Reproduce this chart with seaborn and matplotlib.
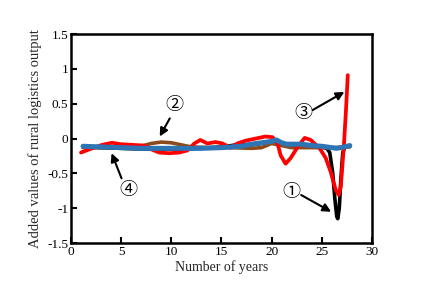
import matplotlib
matplotlib.use("Agg")
import matplotlib.pyplot as plt
import seaborn as sns
import numpy as np

# Series 1 (black)
x1 = [1.2, 3, 5, 7, 9, 11, 13, 15, 17, 18, 19, 20, 20.5, 21, 22, 23, 24, 25, 25.5, 25.8, 26.1, 26.3, 26.5, 26.6, 26.75, 26.9, 27.1, 27.3, 27.8]
y1 = [-0.12, -0.13, -0.14, -0.15, -0.15, -0.15, -0.14, -0.12, -0.08, -0.09, -0.07, -0.05, -0.04, -0.09, -0.09, -0.10, -0.11, -0.12, -0.14, -0.2, -0.5, -0.85, -1.12, -1.15, -1.0, -0.6, -0.2, -0.12, -0.11]
# Series 2 (brown)
x2 = [1.2, 3, 5, 7, 8, 9, 10, 11, 12, 14, 16, 18, 19, 20, 21, 22, 24, 26, 27.8]
y2 = [-0.13, -0.13, -0.13, -0.11, -0.07, -0.05, -0.06, -0.09, -0.12, -0.13, -0.13, -0.14, -0.13, -0.07, -0.10, -0.13, -0.13, -0.13, -0.12]
# Series 3 (red)
x3 = [1.0, 2.1, 3.1, 4.1, 4.9, 6.1, 7.3, 8.1, 8.8, 9.8, 10.8, 11.6, 12.3, 12.9, 13.6, 14.4, 15.1, 15.9, 16.6, 17.4, 18.4, 19.4, 20.1, 20.6, 20.9, 21.4, 21.9, 22.6, 23.3, 23.9, 24.8, 25.4, 25.9, 26.4, 26.7, 26.9, 27.2, 27.4, 27.6]
y3 = [-0.2, -0.14, -0.09, -0.06, -0.08, -0.09, -0.1, -0.16, -0.2, -0.21, -0.2, -0.17, -0.07, -0.02, -0.07, -0.05, -0.07, -0.13, -0.07, -0.03, 0.0, 0.03, 0.02, -0.07, -0.24, -0.36, -0.28, -0.12, 0.01, -0.02, -0.14, -0.28, -0.48, -0.74, -0.81, -0.69, -0.12, 0.36, 0.91]
# Series 4 (blue)
x4 = [1.2, 3, 5, 7, 10, 13, 15, 17, 18, 19, 20, 20.5, 21, 21.5, 23, 24, 25, 26, 26.5, 27.2, 27.8]
y4 = [-0.11, -0.12, -0.13, -0.14, -0.14, -0.14, -0.13, -0.11, -0.08, -0.06, -0.04, -0.02, -0.06, -0.08, -0.08, -0.10, -0.11, -0.13, -0.14, -0.12, -0.10]

labels = ["①", "②", "③", "④"]
label_x = [21.98, 10.35, 23.18, 5.7]
label_y = [-0.76, 0.48, 0.37, -0.74]
tail_x = [22.95, 9.85, 24.1, 5.04]
tail_y = [-0.81, 0.29, 0.41, -0.57]
tip_x = [25.94, 8.85, 27.26, 4.05]
tip_y = [-1.05, 0.03, 0.67, -0.21]

xticks = [0, 5, 10, 15, 20, 25, 30]
yticks = [-1.5, -1, -0.5, 0, 0.5, 1, 1.5]
ytick_labels = ["-1.5", "-1", "-0.5", "0", "0.5", "1", "1.5"]

sns.set_style("ticks")
plt.rcParams['font.family'] = ['Liberation Serif', 'DejaVu Sans']

fig = plt.figure(figsize=(4.25, 2.99), dpi=100)
ax = fig.add_axes([0.167, 0.187, 0.708, 0.699])

sns.lineplot(x=x1, y=y1, color="black", lw=2.6, ax=ax, sort=False)
sns.lineplot(x=x2, y=y2, color="#8b4a1a", lw=2.6, ax=ax, sort=False)
sns.lineplot(x=x3, y=y3, color="#ff0000", lw=2.7, ax=ax, sort=False)
sns.lineplot(x=x4, y=y4, color="#2e75b6", lw=3.6, ax=ax, sort=False)

ax.set_xlim(0, 30)
ax.set_ylim(-1.5, 1.5)
ax.set_xticks(xticks)
ax.set_xticklabels([str(t) for t in xticks])
ax.set_yticks(yticks)
ax.set_yticklabels(ytick_labels)
ax.tick_params(direction="in", length=4, width=1.5, labelsize=9.5, pad=2, colors="black")
for s in ax.spines.values():
    s.set_linewidth(1.8)
    s.set_color("black")
ax.set_xlabel("Number of years", fontsize=10, labelpad=2)
ax.set_ylabel("Added values of rural logistics output", fontsize=10.5, labelpad=4)

arrow = dict(arrowstyle="-|>", color="black", lw=1.5, mutation_scale=12, shrinkA=0, shrinkB=0)
for lab, lx, ly, txx, tyy, px, py in zip(labels, label_x, label_y, tail_x, tail_y, tip_x, tip_y):
    ax.text(lx, ly, lab, fontsize=13, ha="center", va="center",
            family=["Noto Sans CJK SC", "DejaVu Sans"], color="black")
    ax.annotate("", xy=(px, py), xytext=(txx, tyy), arrowprops=arrow)

fig.savefig("out.png", dpi=100)
